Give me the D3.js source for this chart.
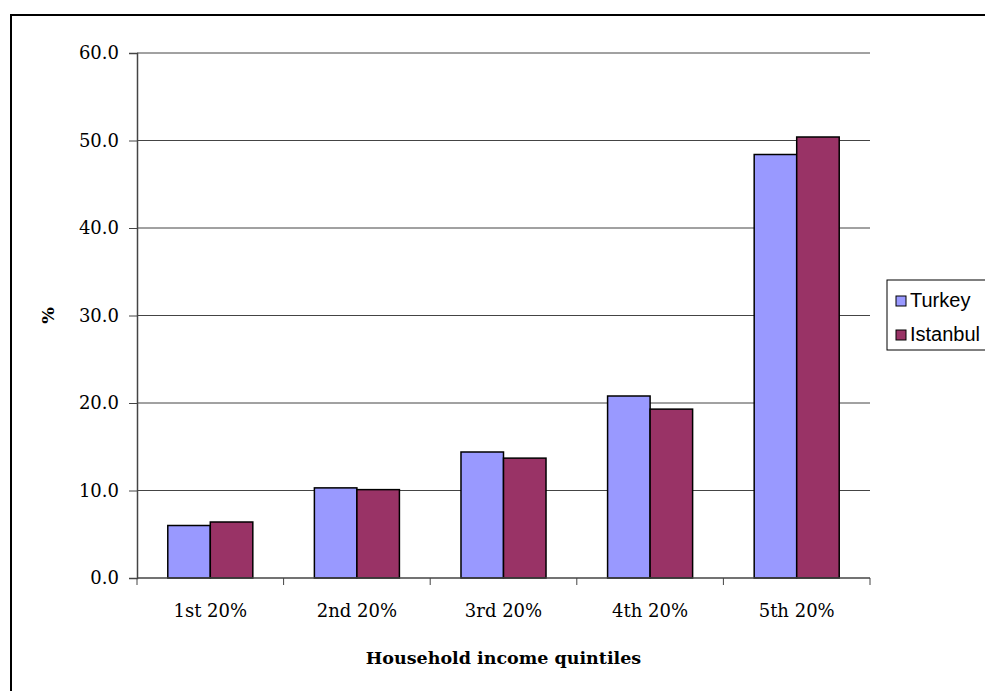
<!DOCTYPE html>
<html>
<head>
<meta charset="utf-8">
<script src="https://cdn.jsdelivr.net/npm/d3@7"></script>
<style>
  body { margin: 0; background: #fff; }
  svg { display: block; }
</style>
</head>
<body>
<script>
var categories = ["1st 20%", "2nd 20%", "3rd 20%", "4th 20%", "5th 20%"];
var seriesNames = ["Turkey", "Istanbul"];
var turkey = [6.0, 10.3, 14.4, 20.8, 48.4];
var istanbul = [6.4, 10.1, 13.7, 19.3, 50.4];
var yTicks = [0, 10, 20, 30, 40, 50, 60];
var colors = ["#9999ff", "#993366"];

var serif = "'DejaVu Serif', 'Liberation Serif', serif";
var width = 985, height = 691;
var svg = d3.select("body").append("svg")
  .attr("width", width)
  .attr("height", height);

// outer chart frame (runs off the right and bottom edges)
svg.append("rect")
  .attr("x", 11).attr("y", 15)
  .attr("width", 1000).attr("height", 700)
  .attr("fill", "none")
  .attr("stroke", "#000")
  .attr("stroke-width", 2);

var plot = { left: 137, right: 870, top: 53, bottom: 578 };

var x = d3.scaleBand()
  .domain(categories)
  .range([plot.left, plot.right])
  .paddingInner(0.42)
  .paddingOuter(0.21);

var xs = d3.scaleBand()
  .domain(seriesNames)
  .range([0, x.bandwidth()]);

var y = d3.scaleLinear()
  .domain([0, 60])
  .range([plot.bottom, plot.top]);

// gridlines
svg.append("g")
  .selectAll("line")
  .data(yTicks.slice(1))
  .enter()
  .append("line")
  .attr("x1", plot.left).attr("x2", plot.right)
  .attr("y1", d => y(d)).attr("y2", d => y(d))
  .attr("stroke", "#444")
  .attr("stroke-width", 1);

// bars
var rows = categories.map((c, i) => ({ cat: c, values: [turkey[i], istanbul[i]] }));

var groups = svg.selectAll(".grp")
  .data(rows)
  .enter()
  .append("g")
  .attr("transform", d => "translate(" + x(d.cat) + ",0)");

groups.selectAll("rect")
  .data(d => d.values.map((v, j) => ({ name: seriesNames[j], value: v, j: j })))
  .enter()
  .append("rect")
  .attr("x", d => xs(d.name))
  .attr("y", d => y(d.value))
  .attr("width", xs.bandwidth())
  .attr("height", d => y(0) - y(d.value))
  .attr("fill", d => colors[d.j])
  .attr("stroke", "#000")
  .attr("stroke-width", 1.5);

// y axis
var yAxis = d3.axisLeft(y)
  .tickValues(yTicks)
  .tickSize(8)
  .tickPadding(10)
  .tickFormat(d3.format(".1f"));

var gy = svg.append("g")
  .attr("transform", "translate(" + plot.left + ",0)")
  .call(yAxis);
gy.select(".domain").attr("stroke", "#444").attr("stroke-width", 1.5);
gy.selectAll(".tick line").attr("stroke", "#444");
gy.selectAll("text")
  .attr("font-family", serif)
  .attr("font-size", 18)
  .attr("fill", "#000");

// x axis
var gx = svg.append("g")
  .attr("transform", "translate(0," + plot.bottom + ")");
gx.append("line")
  .attr("x1", plot.left).attr("x2", plot.right)
  .attr("stroke", "#444").attr("stroke-width", 1.5);
var step = x.step();
var bounds = d3.range(categories.length + 1).map(i => plot.left + i * step);
gx.selectAll(".xt")
  .data(bounds)
  .enter()
  .append("line")
  .attr("x1", d => d).attr("x2", d => d)
  .attr("y1", 0).attr("y2", 7)
  .attr("stroke", "#444");
gx.selectAll(".xl")
  .data(categories)
  .enter()
  .append("text")
  .attr("x", d => x(d) + x.bandwidth() / 2)
  .attr("y", 39)
  .attr("text-anchor", "middle")
  .attr("font-family", serif)
  .attr("font-size", 18)
  .text(d => d);

// axis titles
svg.append("text")
  .attr("x", (plot.left + plot.right) / 2)
  .attr("y", 664)
  .attr("text-anchor", "middle")
  .attr("font-family", serif)
  .attr("font-weight", "bold")
  .attr("font-size", 17.5)
  .text("Household income quintiles");

svg.append("text")
  .attr("transform", "translate(54," + (plot.top + plot.bottom) / 2 + ") rotate(-90)")
  .attr("text-anchor", "middle")
  .attr("font-family", serif)
  .attr("font-weight", "bold")
  .attr("font-size", 17.5)
  .text("%");

// legend
var legend = svg.append("g").attr("transform", "translate(887,280)");
legend.append("rect")
  .attr("width", 110).attr("height", 70)
  .attr("fill", "#fff")
  .attr("stroke", "#000")
  .attr("stroke-width", 1);
var li = legend.selectAll(".li")
  .data(seriesNames)
  .enter()
  .append("g")
  .attr("transform", (d, i) => "translate(9," + (16 + i * 34) + ")");
li.append("rect")
  .attr("width", 10).attr("height", 10)
  .attr("fill", (d, i) => colors[i])
  .attr("stroke", "#000");
li.append("text")
  .attr("x", 14).attr("y", 11)
  .attr("font-family", "'Liberation Sans', Arial, sans-serif")
  .attr("font-size", 20)
  .text(d => d);
</script>
</body>
</html>
